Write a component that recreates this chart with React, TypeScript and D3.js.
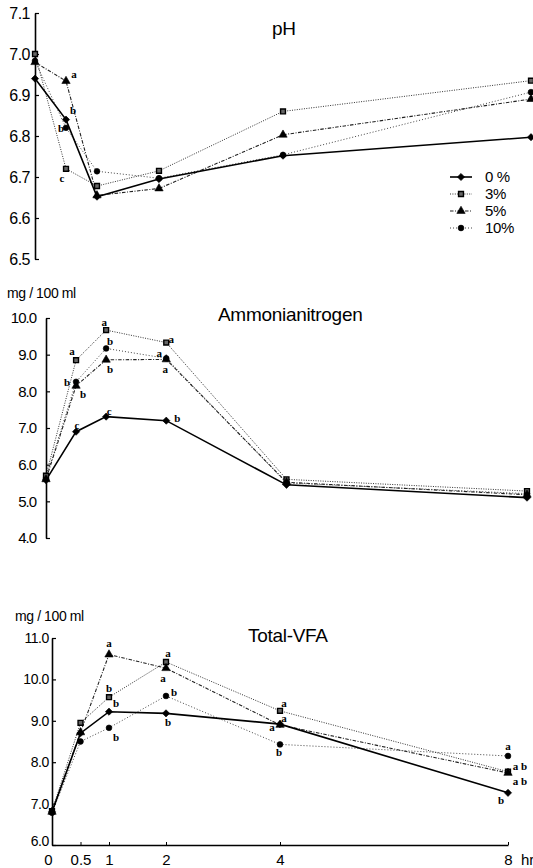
import React, { useEffect, useRef } from 'react';
import * as d3 from 'd3';

// sampling times (hr) and treatment groups
const hours = [0, 0.5, 1, 2, 4, 8];
const groups = ['0 %', '3%', '5%', '10%'];

// pH
const ph0 = [6.94, 6.84, 6.652, 6.695, 6.752, 6.797];
const ph3 = [7.0, 6.72, 6.678, 6.715, 6.86, 6.935];
const ph5 = [6.98, 6.934, 6.655, 6.672, 6.803, 6.89];
const ph10 = [6.983, 6.82, 6.714, 6.697, 6.754, 6.907];
const phTicks = [6.5, 6.6, 6.7, 6.8, 6.9, 7.0, 7.1];

// ammonia nitrogen, mg/100 ml
const nh0 = [5.58, 6.9, 7.31, 7.2, 5.45, 5.1];
const nh3 = [5.7, 8.85, 9.67, 9.33, 5.6, 5.28];
const nh5 = [5.6, 8.15, 8.86, 8.87, 5.52, 5.18];
const nh10 = [5.63, 8.26, 9.17, 8.9, 5.5, 5.21];
const nhTicks = [4, 5, 6, 7, 8, 9, 10];

// total VFA, mg/100 ml
const vfa0 = [6.8, 8.7, 9.22, 9.18, 8.92, 7.26];
const vfa3 = [6.82, 8.95, 9.57, 10.42, 9.24, 7.77];
const vfa5 = [6.8, 8.72, 10.6, 10.27, 8.9, 7.74];
const vfa10 = [6.78, 8.5, 8.83, 9.6, 8.43, 8.15];
const vfaTicks = [6, 7, 8, 9, 10, 11];

// significance letters: [group, time index, text, nudge x, nudge y]
const phLetters = [
  [2, 1, 'a', 8, -7],
  [0, 1, 'b', 7, -9],
  [3, 1, 'b', -5, 0],
  [1, 1, 'c', -4, 9],
];
const nhLetters = [
  [1, 1, 'a', -4, -9], [3, 1, 'b', -9, 0], [2, 1, 'b', 7, 8], [0, 1, 'c', 1, -7],
  [1, 2, 'a', -2, -8], [3, 2, 'b', 4, -7], [2, 2, 'b', 4, 9], [0, 2, 'c', 3, -5],
  [1, 3, 'a', 5, -3], [3, 3, 'a', -7, -5], [2, 3, 'a', -1, 10], [0, 3, 'b', 11, -3],
];
const vfaLetters = [
  [2, 2, 'a', 0, -11], [1, 2, 'b', 0, -9], [1, 2, 'b', 7, 6], [3, 2, 'b', 7, 9],
  [1, 3, 'a', 2, -9], [2, 3, 'a', -3, 10], [3, 3, 'b', 8, -4], [0, 3, 'b', 2, 9],
  [1, 4, 'a', 4, -8], [2, 4, 'a', 4, -7], [0, 4, 'a', -8, 3], [3, 4, 'b', -1, 8],
  [3, 5, 'a', 0, -10], [1, 5, 'a b', 12, -6], [2, 5, 'a b', 12, 8], [0, 5, 'b', -7, 7],
];

const W = 533;
const H = 868;
const SANS = '"Liberation Sans", Arial, sans-serif';
const SERIF = '"Liberation Serif", "Times New Roman", serif';

// diamond is a square turned 45 degrees
const symbols = [d3.symbolSquare, d3.symbolSquare, d3.symbolTriangle, d3.symbolCircle];
const symRot = [45, 0, 0, 0];
const symSize = [26, 24, 30, 26];
const dashes = [null, '1,1.4', '3.5,1.5,1,1.5', '1,2'];
const widths = [1.6, 1, 1.1, 1];
const strokes = ['#000', '#333', '#222', '#444'];

const panels = [
  {
    title: 'pH', series: [ph0, ph3, ph5, ph10], ticks: phTicks, fmt: '.1f', letters: phLetters,
    x: [35, 531], y: [259, 13], pad: 5, font: 16, ls: -0.5,
    titleX: 272, titleY: 35, unitY: null, xAxis: false, legend: true,
  },
  {
    title: 'Ammonianitrogen', series: [nh0, nh3, nh5, nh10], ticks: nhTicks, fmt: '.1f', letters: nhLetters,
    x: [46, 527], y: [538, 318], pad: 10, font: 15, ls: -1,
    titleX: 218, titleY: 321, unitX: 7, unitY: 298, xAxis: false, legend: false,
  },
  {
    title: 'Total-VFA', series: [vfa0, vfa3, vfa5, vfa10], ticks: vfaTicks, fmt: '.1f', letters: vfaLetters,
    x: [52, 508], y: [845, 638], pad: 3, font: 14, ls: -0.4,
    titleX: 248, titleY: 642, unitX: 15, unitY: 621, xAxis: true, legend: false,
  },
];

const markerPath = (k) => d3.symbol().type(symbols[k]).size(symSize[k])();

const App = () => {
  const svgRef = useRef(null);

  useEffect(() => {
    const svg = d3.select(svgRef.current);
    svg.selectAll('*').remove();

    panels.forEach((p) => {
      const xScale = d3.scaleLinear().domain([0, 8]).range(p.x);
      const yScale = d3
        .scaleLinear()
        .domain([p.ticks[0], p.ticks[p.ticks.length - 1]])
        .range(p.y);
      const g = svg.append('g');

      // y axis, ticks pointing inward
      const yAxis = d3
        .axisLeft(yScale)
        .tickValues(p.ticks)
        .tickFormat(d3.format(p.fmt))
        .tickSizeInner(-4)
        .tickSizeOuter(0)
        .tickPadding(p.pad);
      const ya = g.append('g').attr('transform', 'translate(' + p.x[0] + ',0)').call(yAxis);
      ya.select('.domain').attr('stroke-width', 1.6);
      ya.selectAll('.tick line').attr('stroke-width', 1.2);
      ya.selectAll('text')
        .attr('font-family', SANS)
        .attr('font-size', p.font)
        .attr('letter-spacing', p.ls)
        .attr('fill', '#000');

      if (p.xAxis) {
        // lowest y label sits just above the x axis
        ya.selectAll('.tick')
          .filter((d) => d === p.ticks[0])
          .select('text')
          .attr('dy', '0.05em');

        const xAxis = d3
          .axisBottom(xScale)
          .tickValues(hours)
          .tickFormat(d3.format('~g'))
          .tickSizeInner(-3)
          .tickSizeOuter(0)
          .tickPadding(9);
        const xa = g.append('g').attr('transform', 'translate(0,' + p.y[0] + ')').call(xAxis);
        xa.select('.domain').attr('stroke-width', 1.6);
        xa.selectAll('text')
          .attr('font-family', SANS)
          .attr('font-size', 15)
          .attr('fill', '#000');
        xa.selectAll('.tick')
          .filter((d) => d === 0)
          .select('text')
          .attr('dx', -4);
        g.append('text')
          .attr('x', xScale(8) + 13)
          .attr('y', p.y[0] + 9)
          .attr('dy', '0.71em')
          .attr('font-family', SANS)
          .attr('font-size', 15)
          .text('hr');
      }

      // title and unit
      g.append('text')
        .attr('x', p.titleX)
        .attr('y', p.titleY)
        .attr('font-family', SANS)
        .attr('font-size', 19)
        .attr('letter-spacing', -0.3)
        .text(p.title);
      if (p.unitY) {
        g.append('text')
          .attr('x', p.unitX)
          .attr('y', p.unitY)
          .attr('font-family', SANS)
          .attr('font-size', 14)
          .attr('letter-spacing', -0.4)
          .text('mg / 100 ml');
      }

      // lines, drawn back to front
      const line = d3
        .line()
        .x((d, i) => xScale(hours[i]))
        .y((d) => yScale(d));
      [3, 1, 2, 0].forEach((k) => {
        const path = g
          .append('path')
          .datum(p.series[k])
          .attr('d', line)
          .attr('fill', 'none')
          .attr('stroke', strokes[k])
          .attr('stroke-width', widths[k]);
        if (dashes[k]) path.attr('stroke-dasharray', dashes[k]);
      });

      // markers
      [3, 1, 2, 0].forEach((k) => {
        g.selectAll(null)
          .data(p.series[k])
          .enter()
          .append('path')
          .attr('d', markerPath(k))
          .attr(
            'transform',
            (d, i) => 'translate(' + xScale(hours[i]) + ',' + yScale(d) + ') rotate(' + symRot[k] + ')'
          )
          .attr('fill', k === 1 ? '#666' : '#000')
          .attr('stroke', '#000')
          .attr('stroke-width', k === 1 ? 1.4 : 0.6);
      });

      // significance letters
      g.selectAll(null)
        .data(p.letters)
        .enter()
        .append('text')
        .attr('x', (d) => xScale(hours[d[1]]) + d[3])
        .attr('y', (d) => yScale(p.series[d[0]][d[1]]) + d[4])
        .attr('dy', '0.35em')
        .attr('text-anchor', 'middle')
        .attr('font-family', SERIF)
        .attr('font-weight', 'bold')
        .attr('font-size', 11)
        .text((d) => d[2]);

      // legend
      if (p.legend) {
        const lg = g.append('g').attr('transform', 'translate(450,177)');
        groups.forEach((name, k) => {
          const row = lg.append('g').attr('transform', 'translate(0,' + k * 17 + ')');
          const ln = row
            .append('line')
            .attr('x1', 0)
            .attr('x2', 22)
            .attr('stroke', strokes[k])
            .attr('stroke-width', widths[k]);
          if (dashes[k]) ln.attr('stroke-dasharray', dashes[k]);
          row.append('path')
            .attr('d', markerPath(k))
            .attr('transform', 'translate(11,0) rotate(' + symRot[k] + ')')
            .attr('fill', k === 1 ? '#666' : '#000')
            .attr('stroke', '#000')
            .attr('stroke-width', k === 1 ? 1.4 : 0.6);
          row.append('text')
            .attr('x', 35)
            .attr('dy', '0.35em')
            .attr('font-family', SANS)
            .attr('font-size', 15)
            .attr('letter-spacing', -0.4)
            .text(name);
        });
      }
    });
  }, []);

  return (
    <div>
      <svg
        ref={svgRef}
        width={W}
        height={H}
        style={{ position: 'absolute', left: 0, top: 0, background: '#fff' }}
      ></svg>
    </div>
  );
};

export default App;
